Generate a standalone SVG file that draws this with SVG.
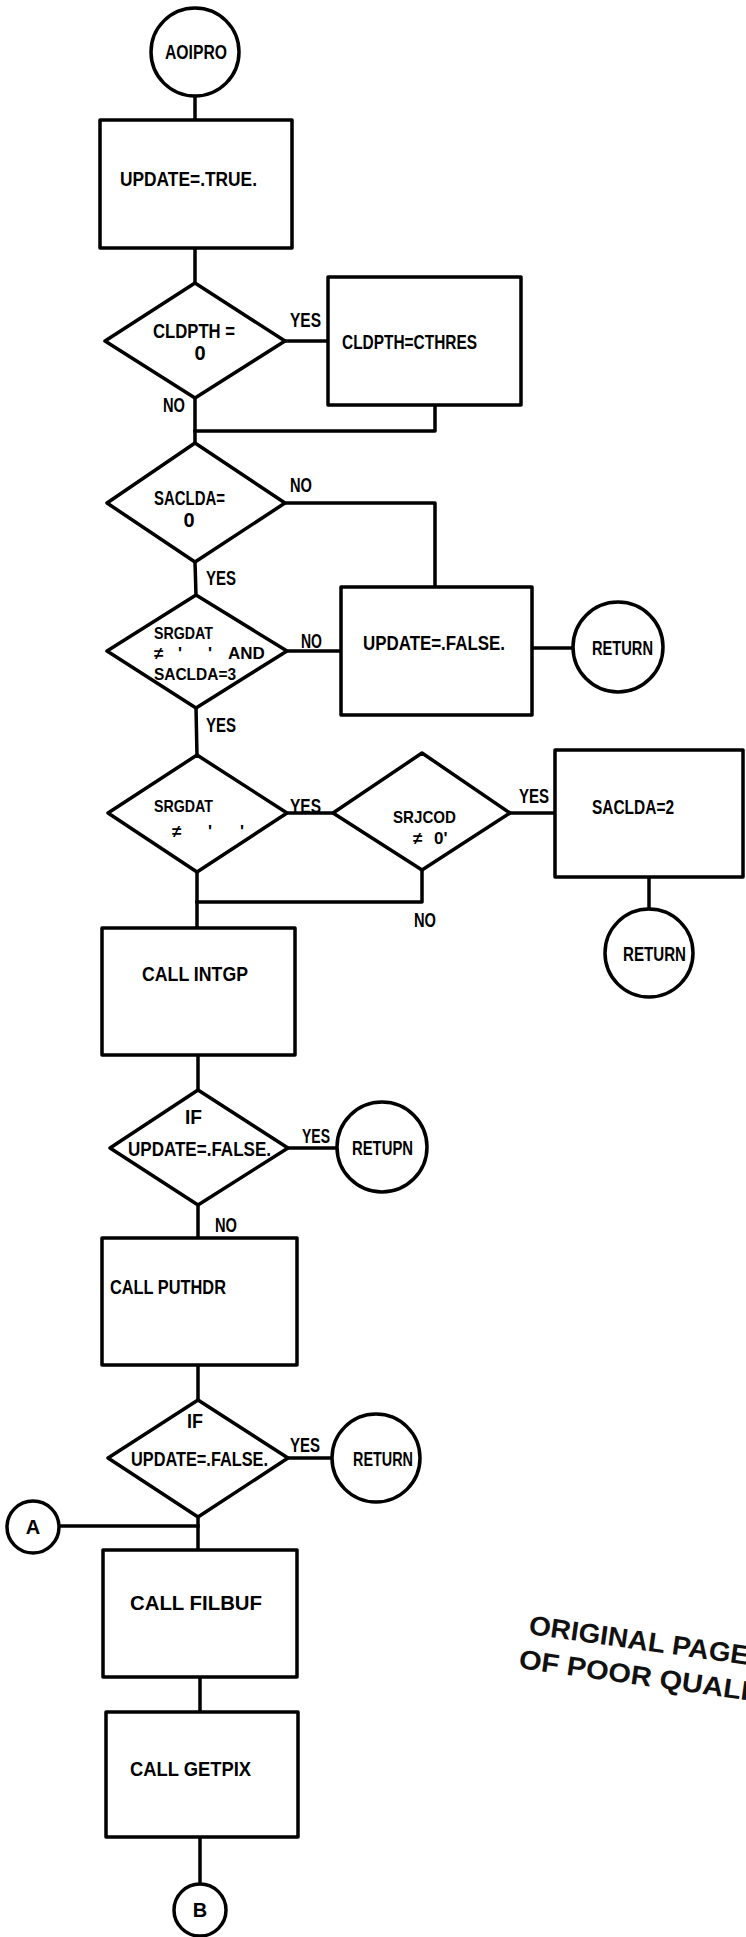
<svg xmlns="http://www.w3.org/2000/svg" width="746" height="1937" viewBox="0 0 746 1937">
<style>
.s{fill:#fff;stroke:#000;stroke-width:3.5;stroke-linejoin:round}
.c{fill:none;stroke:#000;stroke-width:3.5;stroke-linejoin:round;stroke-linecap:square}
text{font-family:"Liberation Sans",Arial,sans-serif;font-weight:bold;font-size:20px;fill:#000}
.d{font-size:17px}
.m{text-anchor:middle}
.st{font-size:27px;fill:#111}
</style>
<rect width="746" height="1937" fill="#fff"/>
<g id="connectors">
<polyline class="c" points="195,96 195,120"/>
<polyline class="c" points="195,248 195,283"/>
<polyline class="c" points="285,341 328,341"/>
<polyline class="c" points="195,398 195,443"/>
<polyline class="c" points="435,405 435,431 195,431"/>
<polyline class="c" points="285,503 435,503 435,587"/>
<polyline class="c" points="195,562 196,595"/>
<polyline class="c" points="287,651 341,651"/>
<polyline class="c" points="532,648 573,648"/>
<polyline class="c" points="196,708 197,755"/>
<polyline class="c" points="287,813 333,813"/>
<polyline class="c" points="510,813 555,813"/>
<polyline class="c" points="649,877 649,909"/>
<polyline class="c" points="422,870 422,902 197,902"/>
<polyline class="c" points="197,872 197,928"/>
<polyline class="c" points="198,1055 198,1090"/>
<polyline class="c" points="288,1148 337,1148"/>
<polyline class="c" points="198,1205 198,1238"/>
<polyline class="c" points="198,1365 198,1400"/>
<polyline class="c" points="288,1458 332,1458"/>
<polyline class="c" points="198,1517 198,1550"/>
<polyline class="c" points="59,1526 198,1526"/>
<polyline class="c" points="200,1677 200,1712"/>
<polyline class="c" points="200,1837 200,1884"/>
</g>
<g id="labels">
<text x="290" y="327" textLength="31" lengthAdjust="spacingAndGlyphs">YES</text>
<text x="163" y="412" textLength="22" lengthAdjust="spacingAndGlyphs">NO</text>
<text x="290" y="492" textLength="22" lengthAdjust="spacingAndGlyphs">NO</text>
<text x="206" y="585" textLength="30" lengthAdjust="spacingAndGlyphs">YES</text>
<text x="301" y="648" textLength="21" lengthAdjust="spacingAndGlyphs">NO</text>
<text x="206" y="732" textLength="30" lengthAdjust="spacingAndGlyphs">YES</text>
<text x="290" y="813" textLength="31" lengthAdjust="spacingAndGlyphs">YES</text>
<text x="519" y="803" textLength="30" lengthAdjust="spacingAndGlyphs">YES</text>
<text x="414" y="927" textLength="22" lengthAdjust="spacingAndGlyphs">NO</text>
<text x="302" y="1143" textLength="28" lengthAdjust="spacingAndGlyphs">YES</text>
<text x="215" y="1232" textLength="22" lengthAdjust="spacingAndGlyphs">NO</text>
<text x="290" y="1452" textLength="30" lengthAdjust="spacingAndGlyphs">YES</text>
</g>
<g id="n_aoipro">
<circle class="s" cx="195" cy="52" r="44"/>
<text x="165" y="59" textLength="62" lengthAdjust="spacingAndGlyphs">AOIPRO</text>
</g>
<g id="n_update_true">
<rect class="s" x="100" y="120" width="192" height="128"/>
<text x="120" y="186" textLength="137" lengthAdjust="spacingAndGlyphs">UPDATE=.TRUE.</text>
</g>
<g id="n_d_cldpth">
<polygon class="s" points="195,283 285,341 195,398 105,341"/>
<text x="153" y="338" textLength="82" lengthAdjust="spacingAndGlyphs">CLDPTH =</text>
<text x="200" y="360" class="m">0</text>
</g>
<g id="n_cldpth_cthres">
<rect class="s" x="328" y="277" width="193" height="128"/>
<text x="342" y="349" textLength="135" lengthAdjust="spacingAndGlyphs">CLDPTH=CTHRES</text>
</g>
<g id="n_d_saclda0">
<polygon class="s" points="195,443 285,503 195,562 107,503"/>
<text x="154" y="505" textLength="71" lengthAdjust="spacingAndGlyphs">SACLDA=</text>
<text x="189" y="527" class="m">0</text>
</g>
<g id="n_d_srgdat_and">
<polygon class="s" points="196,595 287,651 196,708 107,651"/>
<text class="d" x="154" y="639" textLength="59" lengthAdjust="spacingAndGlyphs">SRGDAT</text>
<text class="d" y="659"><tspan x="154">≠</tspan><tspan x="178">'</tspan><tspan x="208">'</tspan><tspan x="228">AND</tspan></text>
<text class="d" x="154" y="680" textLength="82" lengthAdjust="spacingAndGlyphs">SACLDA=3</text>
</g>
<g id="n_update_false">
<rect class="s" x="341" y="587" width="191" height="128"/>
<text x="363" y="650" textLength="142" lengthAdjust="spacingAndGlyphs">UPDATE=.FALSE.</text>
</g>
<g id="n_return1">
<circle class="s" cx="618" cy="647" r="45"/>
<text x="592" y="655" textLength="61" lengthAdjust="spacingAndGlyphs">RETURN</text>
</g>
<g id="n_d_srgdat">
<polygon class="s" points="197,755 287,813 197,872 108,813"/>
<text class="d" x="154" y="812" textLength="59" lengthAdjust="spacingAndGlyphs">SRGDAT</text>
<text class="d" y="837"><tspan x="172">≠</tspan><tspan x="208">'</tspan><tspan x="240">'</tspan></text>
</g>
<g id="n_d_srjcod">
<polygon class="s" points="422,753 510,813 422,870 333,813"/>
<text class="d" x="393" y="823" textLength="63" lengthAdjust="spacingAndGlyphs">SRJCOD</text>
<text class="d" y="844"><tspan x="413">≠</tspan><tspan x="434">0'</tspan></text>
</g>
<g id="n_saclda2">
<rect class="s" x="555" y="750" width="188" height="127"/>
<text x="592" y="814" textLength="82" lengthAdjust="spacingAndGlyphs">SACLDA=2</text>
</g>
<g id="n_return2">
<circle class="s" cx="649" cy="953" r="44"/>
<text x="623" y="961" textLength="63" lengthAdjust="spacingAndGlyphs">RETURN</text>
</g>
<g id="n_intgp">
<rect class="s" x="102" y="928" width="193" height="127"/>
<text x="142" y="981" textLength="106" lengthAdjust="spacingAndGlyphs">CALL  INTGP</text>
</g>
<g id="n_d_if1">
<polygon class="s" points="198,1090 288,1148 198,1205 110,1148"/>
<text x="185" y="1124" textLength="17" lengthAdjust="spacingAndGlyphs">IF</text>
<text x="128" y="1156" textLength="143" lengthAdjust="spacingAndGlyphs">UPDATE=.FALSE.</text>
</g>
<g id="n_retupn">
<circle class="s" cx="382" cy="1147" r="45"/>
<text x="352" y="1155" textLength="61" lengthAdjust="spacingAndGlyphs">RETUPN</text>
</g>
<g id="n_puthdr">
<rect class="s" x="102" y="1238" width="195" height="127"/>
<text x="110" y="1294" textLength="116" lengthAdjust="spacingAndGlyphs">CALL  PUTHDR</text>
</g>
<g id="n_d_if2">
<polygon class="s" points="198,1400 288,1458 198,1517 108,1458"/>
<text x="187" y="1428" textLength="16" lengthAdjust="spacingAndGlyphs">IF</text>
<text x="131" y="1466" textLength="137" lengthAdjust="spacingAndGlyphs">UPDATE=.FALSE.</text>
</g>
<g id="n_return3">
<circle class="s" cx="376" cy="1458" r="44"/>
<text x="353" y="1466" textLength="60" lengthAdjust="spacingAndGlyphs">RETURN</text>
</g>
<g id="n_a">
<circle class="s" cx="33" cy="1527" r="26"/>
<text x="33" y="1534" class="m">A</text>
</g>
<g id="n_filbuf">
<rect class="s" x="103" y="1550" width="194" height="127"/>
<text x="130" y="1610" textLength="132" lengthAdjust="spacingAndGlyphs">CALL  FILBUF</text>
</g>
<g id="n_getpix">
<rect class="s" x="106" y="1712" width="192" height="125"/>
<text x="130" y="1776" textLength="121" lengthAdjust="spacingAndGlyphs">CALL  GETPIX</text>
</g>
<g id="n_b">
<circle class="s" cx="200" cy="1910" r="26"/>
<text x="200" y="1917" class="m">B</text>
</g>
<g id="stamp">
<text class="st" x="528" y="1634" transform="rotate(8 528 1634)" textLength="222" lengthAdjust="spacingAndGlyphs">ORIGINAL PAGE</text>
<text class="st" x="518" y="1668" transform="rotate(8 518 1668)" textLength="232" lengthAdjust="spacingAndGlyphs">OF POOR QUALI</text>
</g>
</svg>
